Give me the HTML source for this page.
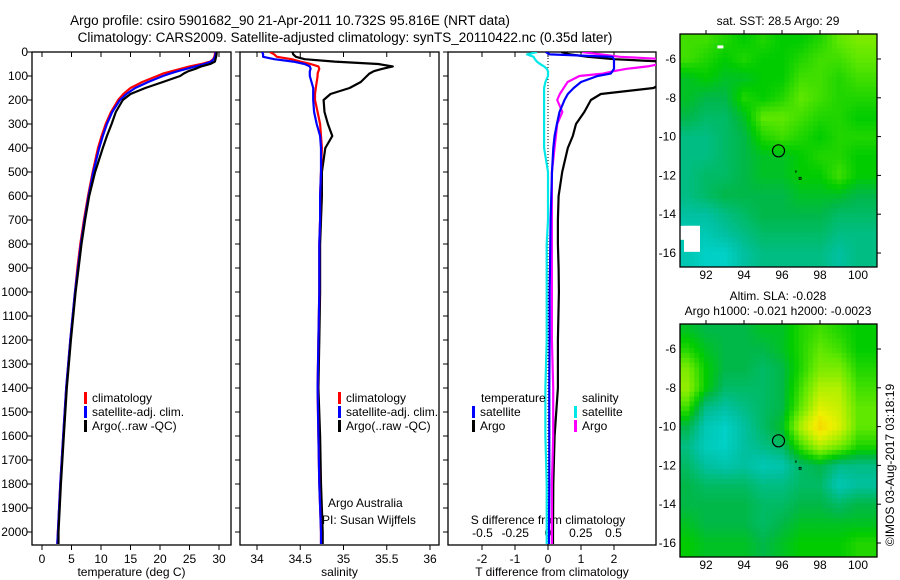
<!DOCTYPE html>
<html><head><meta charset="utf-8"><style>
body{margin:0;background:#fff}
svg{display:block;font-family:"Liberation Sans",sans-serif}
text{fill:#000}
</style></head><body>
<svg id="s" width="900" height="580" viewBox="0 0 900 580" xmlns="http://www.w3.org/2000/svg">
<defs>
<clipPath id="c1"><rect x="32" y="52" width="199" height="493"/></clipPath>
<clipPath id="c2"><rect x="240" y="52" width="199" height="493"/></clipPath>
<clipPath id="c3"><rect x="448" y="52" width="208" height="493"/></clipPath>
<clipPath id="cm1"><rect x="680" y="34" width="197" height="233"/></clipPath>
<clipPath id="cm2"><rect x="680" y="324" width="197" height="233"/></clipPath>
</defs>
<text x="290" y="25" font-size="13.5" text-anchor="middle">Argo profile: csiro 5901682_90 21-Apr-2011 10.732S 95.816E (NRT data)</text>
<text x="345" y="42" font-size="13.5" text-anchor="middle">Climatology: CARS2009. Satellite-adjusted climatology: synTS_20110422.nc (0.35d later)</text>
<g id="g"></g>
</svg>
<script>
const depths=[0,10,20,30,40,50,60,70,80,90,100,125,150,175,200,250,300,350,400,500,600,700,800,900,1000,1200,1400,1600,1800,2000,2050];
const tempClim=[29.3,29.3,29.2,29.0,28.5,27,25,23.5,22,20.5,19.5,17,15,13.8,12.9,11.7,10.8,10.1,9.5,8.6,7.8,7.1,6.5,6.0,5.6,4.8,4.1,3.6,3.1,2.7,2.6];
const tempSat=[29.4,29.4,29.3,29.1,28.7,27.5,26,24.5,23,21.7,20.5,18,15.8,14.3,13.2,11.9,11.0,10.3,9.7,8.7,7.9,7.2,6.6,6.1,5.6,4.8,4.1,3.6,3.1,2.7,2.6];
const tempArgo=[29.6,29.6,29.5,29.4,29.3,28.5,27,26,24.8,24,23.4,20.5,17.5,15,13.7,12.5,11.8,11.0,10.3,9.0,8.0,7.3,6.7,6.2,5.7,4.9,4.2,3.7,3.2,2.8,2.8];
const salClim=[34.15,34.2,34.23,34.4,34.5,34.62,34.71,34.72,34.71,34.70,34.70,34.69,34.68,34.67,34.67,34.70,34.73,34.74,34.75,34.74,34.73,34.73,34.72,34.72,34.72,34.71,34.70,34.71,34.72,34.74,34.74];
const salSat=[34.06,34.07,34.07,34.2,34.42,34.55,34.61,34.62,34.61,34.61,34.61,34.63,34.65,34.65,34.65,34.66,34.69,34.73,34.74,34.74,34.73,34.73,34.72,34.72,34.72,34.71,34.70,34.71,34.72,34.74,34.74];
const salArgo=[34.41,34.42,34.45,34.55,34.9,35.4,35.57,35.45,35.35,35.3,35.27,35.2,35.07,34.85,34.77,34.78,34.82,34.87,34.79,34.75,34.75,34.74,34.73,34.73,34.73,34.72,34.71,34.73,34.74,34.76,34.76];
const tDiffSat=[-0.07,0.06,1.95,2.0,2.0,2.0,2.0,2.0,1.95,1.9,1.5,1.0,0.78,0.6,0.5,0.35,0.27,0.2,0.16,0.12,0.1,0.08,0.07,0.06,0.05,0.05,0.04,0.04,0.04,0.03,0.03];
const tDiffArgo=[0.4,0.67,1.2,2.0,3.5,3.5,3.5,3.5,3.5,3.5,3.5,3.5,3.2,1.6,1.3,1.1,0.85,0.75,0.6,0.43,0.32,0.3,0.3,0.32,0.33,0.3,0.3,0.2,0.16,0.15,0.15];
const sDiffSat=[-0.085,-0.16,-0.11,-0.1,-0.085,-0.06,-0.03,-0.01,0,0,0,-0.02,-0.03,-0.03,-0.03,-0.03,-0.03,-0.03,-0.03,0,0,0,-0.01,-0.01,-0.01,-0.01,-0.02,-0.02,-0.01,-0.01,-0.01];
const sDiffArgo=[0.26,0.4,0.55,0.9,0.9,0.85,0.76,0.6,0.5,0.42,0.24,0.15,0.12,0.09,0.07,0.11,0.07,0.06,0.05,0.03,0.03,0.03,0.03,0.03,0.03,0.03,0.04,0.04,0.03,0.03,0.03];
const depthTicks=[0,100,200,300,400,500,600,700,800,900,1000,1100,1200,1300,1400,1500,1600,1700,1800,1900,2000];
const tempTicks=[0,5,10,15,20,25,30];
const salTicks=[34,34.5,35,35.5,36];
const tDiffTicks=[-2,-1,0,1,2];
const sDiffTicks=[-0.5,-0.25,0,0.25,0.5];
const sstGrid=[
[.5,.5,.45,.4,.45,.4,.4,.45,.55,.6],
[.5,.45,.4,.45,.4,.4,.45,.5,.5,.55],
[.35,.4,.35,.35,.4,.4,.5,.5,.45,.5],
[.35,.3,.3,.45,.4,.45,.55,.5,.45,.45],
[.3,.25,.25,.35,.55,.55,.5,.45,.45,.4],
[.2,.2,.25,.3,.45,.5,.45,.4,.45,.45],
[.2,.2,.25,.3,.35,.35,.4,.45,.45,.4],
[.2,.25,.25,.3,.35,.35,.4,.4,.5,.4],
[.2,.25,.3,.3,.3,.3,.35,.35,.35,.3],
[.15,.15,.2,.25,.3,.3,.3,.3,.25,.25],
[.1,.1,.15,.2,.25,.25,.25,.25,.2,.2],
[.1,.05,.05,.15,.2,.2,.2,.2,.15,.2]];
const slaGrid=[
[.35,.3,.3,.3,.35,.35,.45,.5,.45,.4],
[.45,.35,.3,.3,.3,.35,.45,.55,.5,.4],
[.6,.4,.3,.3,.25,.3,.45,.6,.6,.45],
[.65,.4,.25,.25,.25,.3,.5,.7,.7,.5],
[.5,.2,.15,.2,.25,.3,.55,.8,.75,.55],
[.3,.1,.05,.15,.25,.35,.7,.95,.8,.55],
[.2,.08,.05,.15,.2,.25,.5,.7,.6,.45],
[.25,.15,.12,.15,.1,.12,.25,.3,.2,.2],
[.3,.25,.25,.25,.2,.2,.25,.25,.1,.15],
[.3,.3,.3,.3,.25,.25,.3,.3,.25,.3],
[.35,.3,.3,.3,.25,.3,.35,.35,.35,.35],
[.4,.35,.35,.35,.3,.35,.4,.4,.4,.45]];
const gridLons=[91,92,93,94,95,96,97,98,99,100];
const gridLats=[-5,-6,-7,-8,-9,-10,-11,-12,-13,-14,-15,-16];
const lonTicks=[92,94,96,98,100];
const latTicks=[-6,-8,-10,-12,-14,-16];
const floatLon=95.816, floatLat=-10.732;

const NS='http://www.w3.org/2000/svg';
const G=document.getElementById('g');
function mk(tag,attrs,parent){const e=document.createElementNS(NS,tag);for(const k in attrs)e.setAttribute(k,attrs[k]);(parent||G).appendChild(e);return e;}
function txt(x,y,s,anchor,size,parent){const t=mk('text',{x:x,y:y,'font-size':size||12,'text-anchor':anchor||'start'},parent);t.textContent=s;return t;}
const yD=d=>52+d*0.24;
const xT=v=>42+v*177/30;
const xS=v=>257+(v-34)*86.5;
const xTd=v=>548+v*33;
const xSd=v=>548+v*131;

function panel(name,x0,w,xf,ticks,title,showDepth){
  const g=mk('g',{});
  
  
  const r=mk('rect',{x:x0,y:52,width:w,height:493,fill:'none',stroke:'#000','stroke-width':1.3},g);
  
  
  depthTicks.forEach(d=>{
    mk('line',{x1:x0-5,x2:x0,y1:yD(d),y2:yD(d),stroke:'#000'},g);
    if(showDepth){const t=txt(x0-4,yD(d)+4,String(d),'end',12,g);
      
      }
  });
  ticks.forEach(v=>{const x=xf(v);
    mk('line',{x1:x,x2:x,y1:52,y2:57,stroke:'#000'},g);
    mk('line',{x1:x,x2:x,y1:545,y2:550,stroke:'#000'},g);
    const t=txt(x,563,String(v),'middle',12,g);
    
    });
  const tt=txt(x0+w/2,576,title,'middle',12,g);
  
  
  return g;
}
function line(vals,xf,color,clip,name){
  const p=depths.map((d,i)=>(i?'L':'M')+xf(vals[i]).toFixed(1)+','+yD(d).toFixed(1)).join('');
  const e=mk('path',{d:p,fill:'none',stroke:color,'stroke-width':2.2,'clip-path':'url(#'+clip+')','stroke-linejoin':'round'});
  
  
}
function legend(x,y,items){
  items.forEach((it,i)=>{
    const b=mk('rect',{x:x,y:y+i*14-10,width:3,height:12,fill:it[0]});
    
    
    const t=txt(x+8,y+i*14,it[1],'start',12);
    
    
  });
}
panel('temperature-panel',32,199,xT,tempTicks,'temperature (deg C)',true);
panel('salinity-panel',240,199,xS,salTicks,'salinity',false);
panel('difference-panel',448,208,xTd,tDiffTicks,'T difference from climatology',false);
sDiffTicks.forEach(v=>{const t=txt(xSd(v),537,String(v),'middle',12);
  
  });
const st=txt(548,524,'S difference from climatology','middle',12);


const zl=mk('line',{x1:548,x2:548,y1:52,y2:545,stroke:'#000','stroke-dasharray':'1,2','stroke-width':1});



line(tempClim,xT,'#ff0000','c1','temp-climatology-line');
line(tempSat,xT,'#0000ff','c1','temp-satellite-line');
line(tempArgo,xT,'#000000','c1','temp-argo-line');
line(salArgo,xS,'#000000','c2','sal-argo-line');
line(salClim,xS,'#ff0000','c2','sal-climatology-line');
line(salSat,xS,'#0000ff','c2','sal-satellite-line');
line(tDiffArgo,xTd,'#000000','c3','tdiff-argo-line');
line(sDiffArgo,xSd,'#ff00ff','c3','sdiff-argo-line');
line(tDiffSat,xTd,'#0000ff','c3','tdiff-satellite-line');
line(sDiffSat,xSd,'#00e8e8','c3','sdiff-satellite-line');

legend(84,402,[['#ff0000','climatology'],['#0000ff','satellite-adj. clim.'],['#000','Argo(..raw -QC)']]);
legend(338,402,[['#ff0000','climatology'],['#0000ff','satellite-adj. clim.'],['#000','Argo(..raw -QC)']]);
const lh1=txt(481,402,'temperature','start',12);
legend(472,416,[['#0000ff','satellite'],['#000','Argo']]);
const lh2=txt(582,402,'salinity','start',12);
legend(574,416,[['#00e8e8','satellite'],['#ff00ff','Argo']]);
const a1=txt(328,507,'Argo Australia','start',12);
const a2=txt(322,524,'PI: Susan Wijffels','start',12);

const cStops=[[0,[0,216,216]],[0.15,[0,192,160]],[0.3,[0,184,72]],[0.4,[0,204,0]],[0.55,[96,232,0]],[0.7,[176,240,0]],[0.85,[240,240,0]],[1,[248,200,0]]];
function cmap(v){v=Math.max(0,Math.min(1,v));for(let i=1;i<cStops.length;i++){if(v<=cStops[i][0]){const a=cStops[i-1],b=cStops[i],t=(v-a[0])/(b[0]-a[0]);return 'rgb('+a[1].map((c,k)=>Math.round(c+(b[1][k]-c)*t)).join(',')+')';}}return 'rgb(248,200,0)';}
function sample(grid,lon,lat){
  let fi=(lon-gridLons[0]), fj=(gridLats[0]-lat);
  fi=Math.max(0,Math.min(gridLons.length-1,fi)); fj=Math.max(0,Math.min(gridLats.length-1,fj));
  const i0=Math.floor(fi),j0=Math.floor(fj),i1=Math.min(i0+1,gridLons.length-1),j1=Math.min(j0+1,gridLats.length-1);
  const tx=fi-i0,ty=fj-j0;
  return grid[j0][i0]*(1-tx)*(1-ty)+grid[j0][i1]*tx*(1-ty)+grid[j1][i0]*(1-tx)*ty+grid[j1][i1]*tx*ty;
}
function mapFull(name,y0,top,grid,titles,clip){
  const g=mk('g',{});
  
  
  const xL=lon=>706+(lon-92)*19;
  const yL=lat=>top+(-6-lat)*19.4;
  const cells=mk('g',{'clip-path':'url(#'+clip+')'},g);
  const step=0.25;
  for(let lat=-4.7;lat>-16.8;lat-=step){
    for(let lon=90.63;lon<101;lon+=step){
      const v=sample(grid,lon+step/2,lat-step/2);
      const c=mk('rect',{x:xL(lon).toFixed(1),y:yL(lat).toFixed(1),width:(step*19+0.6).toFixed(1),height:(step*19.4+0.6).toFixed(1),fill:cmap(v)},cells);
      
      
    }
  }
  return {g,xL,yL,cells,y0,titles};
}
function mapFrame(m){
  const {g,xL,yL,y0,titles}=m;
  mk('rect',{x:680,y:y0,width:197,height:233,fill:'none',stroke:'#000','stroke-width':1.3},g);
  lonTicks.forEach(v=>{mk('line',{x1:xL(v),x2:xL(v),y1:y0-4,y2:y0,stroke:'#000'},g);
    const t=txt(xL(v),y0+245,String(v),'middle',12,g);});
  latTicks.forEach(v=>{const y=yL(v);mk('line',{x1:877,x2:881,y1:y,y2:y,stroke:'#000'},g);
    const t=txt(676,y+4,String(v),'end',12,g);});
  const c=mk('circle',{cx:xL(floatLon),cy:yL(floatLat),r:6,fill:'none',stroke:'#000','stroke-width':1.2},g);
  
  mk('rect',{x:xL(96.7),y:yL(-11.75),width:1.2,height:2,fill:'#000'},g);
  mk('rect',{x:xL(96.9),y:yL(-12.1),width:2,height:2,fill:'none',stroke:'#000','stroke-width':0.8},g);
  titles.forEach((s,i)=>{const t=txt(778,y0-24+i*15+(titles.length==1?15:0),s,'middle',12,g);});
}
const sst=mapFull('sst-map',34,59,sstGrid,['sat. SST: 28.5 Argo: 29'],'cm1');
mk('rect',{x:680,y:sst.yL(-14.6),width:20,height:14,fill:'#fff'},sst.cells);
mk('rect',{x:684,y:sst.yL(-14.6),width:16,height:26,fill:'#fff'},sst.cells);
mk('rect',{x:sst.xL(92.6),y:sst.yL(-5.3),width:6,height:3,fill:'#fff'},sst.cells);
mapFrame(sst);
const sla=mapFull('sla-map',324,349,slaGrid,['Altim. SLA: -0.028','Argo h1000: -0.021 h2000: -0.0023'],'cm2');
mapFrame(sla);
const im=txt(0,0,'©IMOS 03-Aug-2017 03:18:19','middle',12);
im.setAttribute('transform','translate(894,465) rotate(-90)');


</script>
</body></html>
